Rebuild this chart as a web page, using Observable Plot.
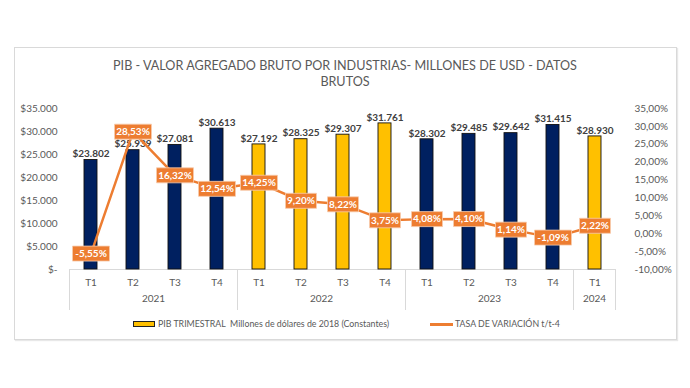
<!DOCTYPE html>
<html><head><meta charset="utf-8">
<script src="https://cdn.jsdelivr.net/npm/d3@7"></script>
<script src="https://cdn.jsdelivr.net/npm/@observablehq/plot@0.6"></script>
<style>
body{margin:0;background:#fff;font-family:Lato,sans-serif;}
#wrap{position:relative;width:690px;height:388px;overflow:hidden;}
#frame{position:absolute;left:14px;top:47px;width:661px;height:291px;border:1px solid #d9d9d9;box-shadow:1px 1px 1px #e8e8e8;}
#title{position:absolute;left:0;top:58px;width:690px;text-align:center;font-size:12.6px;color:#595959;line-height:16px;}
#chart{position:absolute;left:0;top:0;}
.leg{position:absolute;font-size:8.8px;color:#595959;white-space:pre;line-height:10px;}
</style></head>
<body>
<div id="wrap">
  <div id="frame"></div>
  <div id="chart"></div>
  <div id="title">PIB - VALOR AGREGADO BRUTO POR INDUSTRIAS- MILLONES DE USD - DATOS<br>BRUTOS</div>
  <div style="position:absolute;left:133px;top:321px;width:20px;height:4px;background:#FFC000;border:1px solid #222;"></div>
  <div class="leg" style="left:158px;top:319px;">PIB TRIMESTRAL  Millones de dólares de 2018 (Constantes)</div>
  <div style="position:absolute;left:430px;top:323px;width:23px;height:2.5px;background:#ED7D31;"></div>
  <div class="leg" style="left:455px;top:319px;">TASA DE VARIACIÓN t/t-4</div>
</div>
<script>
const quarters = ["T1","T2","T3","T4","T1","T2","T3","T4","T1","T2","T3","T4","T1"];
const years = ["2021","2021","2021","2021","2022","2022","2022","2022","2023","2023","2023","2023","2024"];
const pib = [23802, 25939, 27081, 30613, 27192, 28325, 29307, 31761, 28302, 29485, 29642, 31415, 28930];
const tasa = [-5.55, 28.53, 16.32, 12.54, 14.25, 9.20, 8.22, 3.75, 4.08, 4.10, 1.14, -1.09, 2.22];
const leftTicks = [0, 5000, 10000, 15000, 20000, 25000, 30000, 35000];
const rightTicks = [-10, -5, 0, 5, 10, 15, 20, 25, 30, 35];
const yearList = ["2021", "2022", "2023", "2024"];
const yearColors = ["#002060", "#FFC000", "#002060", "#FFC000"];

const L0 = leftTicks[0], L1 = leftTicks[leftTicks.length - 1];
const R0 = rightTicks[0], R1 = rightTicks[rightTicks.length - 1];
const pctToY = p => L0 + (p - R0) / (R1 - R0) * (L1 - L0);
const yToPct = v => R0 + (v - L0) / (L1 - L0) * (R1 - R0);

const data = quarters.map((q, i) => ({key: years[i] + " " + q, q, year: years[i], pib: pib[i], tasa: tasa[i]}));
const keys = data.map(d => d.key);
const fmtThousands = v => d3.format(",")(v).replace(/,/g, ".");
const fmtPct = p => p.toFixed(2).replace(".", ",") + "%";

const boxSymbol = w => ({draw(ctx) { ctx.moveTo(-w/2, -7.5); ctx.lineTo(w/2, -7.5); ctx.lineTo(w/2, 7.5); ctx.lineTo(-w/2, 7.5); ctx.closePath(); }});
const lineLabel = (filter, w) => Plot.dot(data.filter(filter), {x: "key", y: d => pctToY(d.tasa), symbol: boxSymbol(w), r: 5, fill: "#ED7D31", stroke: "#f8cbad", strokeWidth: 0.8});

const plot = Plot.plot({
  width: 690, height: 388,
  marginLeft: 70, marginRight: 74, marginTop: 108, marginBottom: 119,
  style: {color: "#595959", fontFamily: "Lato, sans-serif", fontSize: "10px", background: "transparent", overflow: "visible"},
  x: {domain: keys, paddingInner: 0.69, paddingOuter: 0.345, label: null},
  y: {domain: [L0, L1], label: null},
  color: {domain: yearList, range: yearColors},
  marks: [
    Plot.axisY({ticks: leftTicks, tickFormat: v => v === 0 ? "$-" : "$" + fmtThousands(v), tickSize: 0, tickPadding: 13, fontSize: 10, label: null}),
    Plot.axisY({anchor: "right", ticks: rightTicks.map(pctToY), tickFormat: v => fmtPct(Math.round(yToPct(v))), tickSize: 0, tickPadding: 18, fontSize: 10, label: null}),
    Plot.axisX({tickFormat: k => k.split(" ")[1], tickSize: 0, tickPadding: 9, fontSize: 10, label: null}),
    Plot.ruleY([0], {stroke: "#d9d9d9"}),
    Plot.barY(data, {x: "key", y: "pib", fill: "year", stroke: "#111", strokeWidth: 0.9}),
    Plot.text(data, {x: "key", y: "pib", text: d => "$" + fmtThousands(d.pib), dy: -6, fontWeight: "bold", fontSize: 10, fill: "#404040"}),
    Plot.line(data, {x: "key", y: d => pctToY(d.tasa), stroke: "#ED7D31", strokeWidth: 2.5}),
    lineLabel(d => fmtPct(d.tasa).length >= 6, 37),
    lineLabel(d => fmtPct(d.tasa).length < 6, 31),
    Plot.text(data, {x: "key", y: d => pctToY(d.tasa), text: d => fmtPct(d.tasa), fill: "white", fontWeight: "bold", fontSize: 10})
  ]
});
document.getElementById("chart").appendChild(plot);

// year groups on the category axis, placed with the plot's own x scale
const xs = plot.scale("x");
const gap = xs.step - xs.bandwidth;
const svg = d3.select(plot);
const y0 = plot.scale("y").apply(L0);
const g = svg.append("g");
const bounds = [];
yearList.forEach(yr => {
  const ks = keys.filter(k => k.startsWith(yr));
  const left = xs.apply(ks[0]) - gap / 2;
  const right = xs.apply(ks[ks.length - 1]) + xs.bandwidth + gap / 2;
  bounds.push(left, right);
  g.append("text").attr("x", (left + right) / 2).attr("y", y0 + 33).attr("text-anchor", "middle")
    .attr("fill", "#595959").attr("font-size", 10).text(yr);
});
Array.from(new Set(bounds)).forEach(b => {
  g.append("line").attr("x1", b).attr("x2", b).attr("y1", y0).attr("y2", y0 + 41).attr("stroke", "#d9d9d9");
});
</script>
</body></html>
